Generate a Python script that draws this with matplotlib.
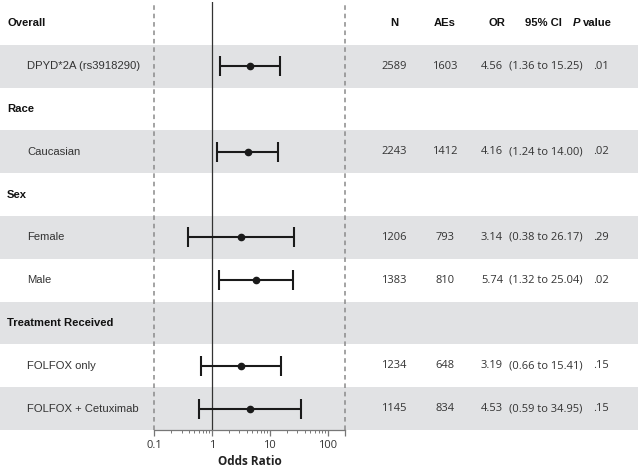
import matplotlib
matplotlib.use("Agg")
import matplotlib.pyplot as plt
from matplotlib.ticker import FixedLocator, NullFormatter

# rows, top to bottom; header rows have no numbers
labels   = ["Overall", "DPYD*2A (rs3918290)", "Race", "Caucasian", "Sex",
            "Female", "Male", "Treatment Received", "FOLFOX only",
            "FOLFOX + Cetuximab"]
is_head  = [True, False, True, False, True, False, False, True, False, False]
shaded   = [False, True, False, True, False, True, False, True, False, True]

n_pat    = [None, 2589, None, 2243, None, 1206, 1383, None, 1234, 1145]
n_aes    = [None, 1603, None, 1412, None, 793, 810, None, 648, 834]
odds     = [None, 4.56, None, 4.16, None, 3.14, 5.74, None, 3.19, 4.53]
ci_lo    = [None, 1.36, None, 1.24, None, 0.38, 1.32, None, 0.66, 0.59]
ci_hi    = [None, 15.25, None, 14.00, None, 26.17, 25.04, None, 15.41, 34.95]
p_vals   = [None, ".01", None, ".02", None, ".29", ".02", None, ".15", ".15"]

x_ticks  = [0.1, 1, 10, 100]
x_tlabs  = ["0.1", "1", "10", "100"]
x_lim    = (0.1, 200)

W, H = 640, 467
fig = plt.figure(figsize=(W / 100, H / 100), dpi=100)
fig.patch.set_facecolor("white")

top_px, bot_px = 2, 430
rect = [0, 1 - bot_px / H, 1, (bot_px - top_px) / H]
nrows = len(labels)

# background axes: bands + table text, x in pixels
bg = fig.add_axes(rect)
bg.set_xlim(0, W)
bg.set_ylim(nrows, 0)
bg.axis("off")

band_col = "#e1e2e4"
txt_col  = "#333333"
lab_font = "Liberation Sans"
num_font = "Open Sans"

for i in range(nrows):
    y = i + 0.5
    if shaded[i]:
        bg.axhspan(i, i + 1, xmin=0, xmax=638 / W, color=band_col, lw=0, zorder=0)
    if is_head[i]:
        bg.text(7, y, labels[i], ha="left", va="center", fontsize=8.1,
                fontweight="bold", family=lab_font, color="#111111")
        continue
    bg.text(27, y, labels[i], ha="left", va="center", fontsize=8.1,
            family=lab_font, color=txt_col)
    bg.text(394, y, str(n_pat[i]), ha="center", va="center", fontsize=8,
            family=num_font, color=txt_col)
    bg.text(445, y, str(n_aes[i]), ha="center", va="center", fontsize=8,
            family=num_font, color=txt_col)
    bg.text(503, y, f"{odds[i]:.2f}", ha="right", va="center", fontsize=8,
            family=num_font, color=txt_col)
    bg.text(546, y, f"({ci_lo[i]:.2f} to {ci_hi[i]:.2f})", ha="center",
            va="center", fontsize=8, family=num_font, color=txt_col)
    bg.text(593, y, p_vals[i], ha="left", va="center", fontsize=8,
            family=num_font, color=txt_col)

# column headers on the Overall row
hy = 0.5
for x, s in [(394, "N"), (445, "AEs"), (497, "OR"), (543, "95% CI")]:
    bg.text(x, hy, s, ha="center", va="center", fontsize=8.1,
            fontweight="bold", family=lab_font, color="#111111")
bg.text(573, hy, "P", ha="left", va="center", fontsize=8.1,
        fontweight="bold", style="italic", family=lab_font, color="#111111")
bg.text(583, hy, "value", ha="left", va="center", fontsize=8.1,
        fontweight="bold", family=lab_font, color="#111111")

# forest axes, log x
x0, x1 = 154, 345
ax = fig.add_axes([x0 / W, rect[1], (x1 - x0) / W, rect[3]])
ax.set_facecolor("none")
ax.set_xscale("log")
ax.set_xlim(*x_lim)
ax.set_ylim(nrows, 0)

for i in range(nrows):
    if odds[i] is None:
        continue
    y = i + 0.5
    ax.errorbar(odds[i], y, xerr=[[odds[i] - ci_lo[i]], [ci_hi[i] - odds[i]]],
                fmt="o", color="#1a1a1a", ms=4.5, elinewidth=1.5,
                capsize=7, capthick=1.5, zorder=3)

ax.axvline(1, color="#333333", lw=0.9, zorder=2)
for xv in x_lim:
    ax.axvline(xv, color="#8a8a8a", lw=1.1, ls=(0, (3, 2.5)), zorder=2,
               clip_on=False)

for side in ["top", "right", "left"]:
    ax.spines[side].set_visible(False)
ax.spines["bottom"].set_color("#777777")
ax.spines["bottom"].set_linewidth(0.9)
ax.set_yticks([])
ax.xaxis.set_major_locator(FixedLocator(x_ticks + [200]))
ax.set_xticklabels(x_tlabs + [""])
minors = [m * 10.0 ** e for e in range(-1, 2) for m in range(2, 10)]
ax.xaxis.set_minor_locator(FixedLocator(minors))
ax.xaxis.set_minor_formatter(NullFormatter())
ax.tick_params(axis="x", which="major", length=4, width=0.9, color="#777777",
               labelsize=8, labelcolor=txt_col, pad=3)
ax.tick_params(axis="x", which="minor", length=2, width=0.7, color="#777777")
for t in ax.get_xticklabels():
    t.set_family(num_font)
ax.set_xlabel("Odds Ratio", fontsize=8.5, fontweight="bold",
              family=num_font, color="#222222", labelpad=3)

fig.savefig("out.png", dpi=100)
